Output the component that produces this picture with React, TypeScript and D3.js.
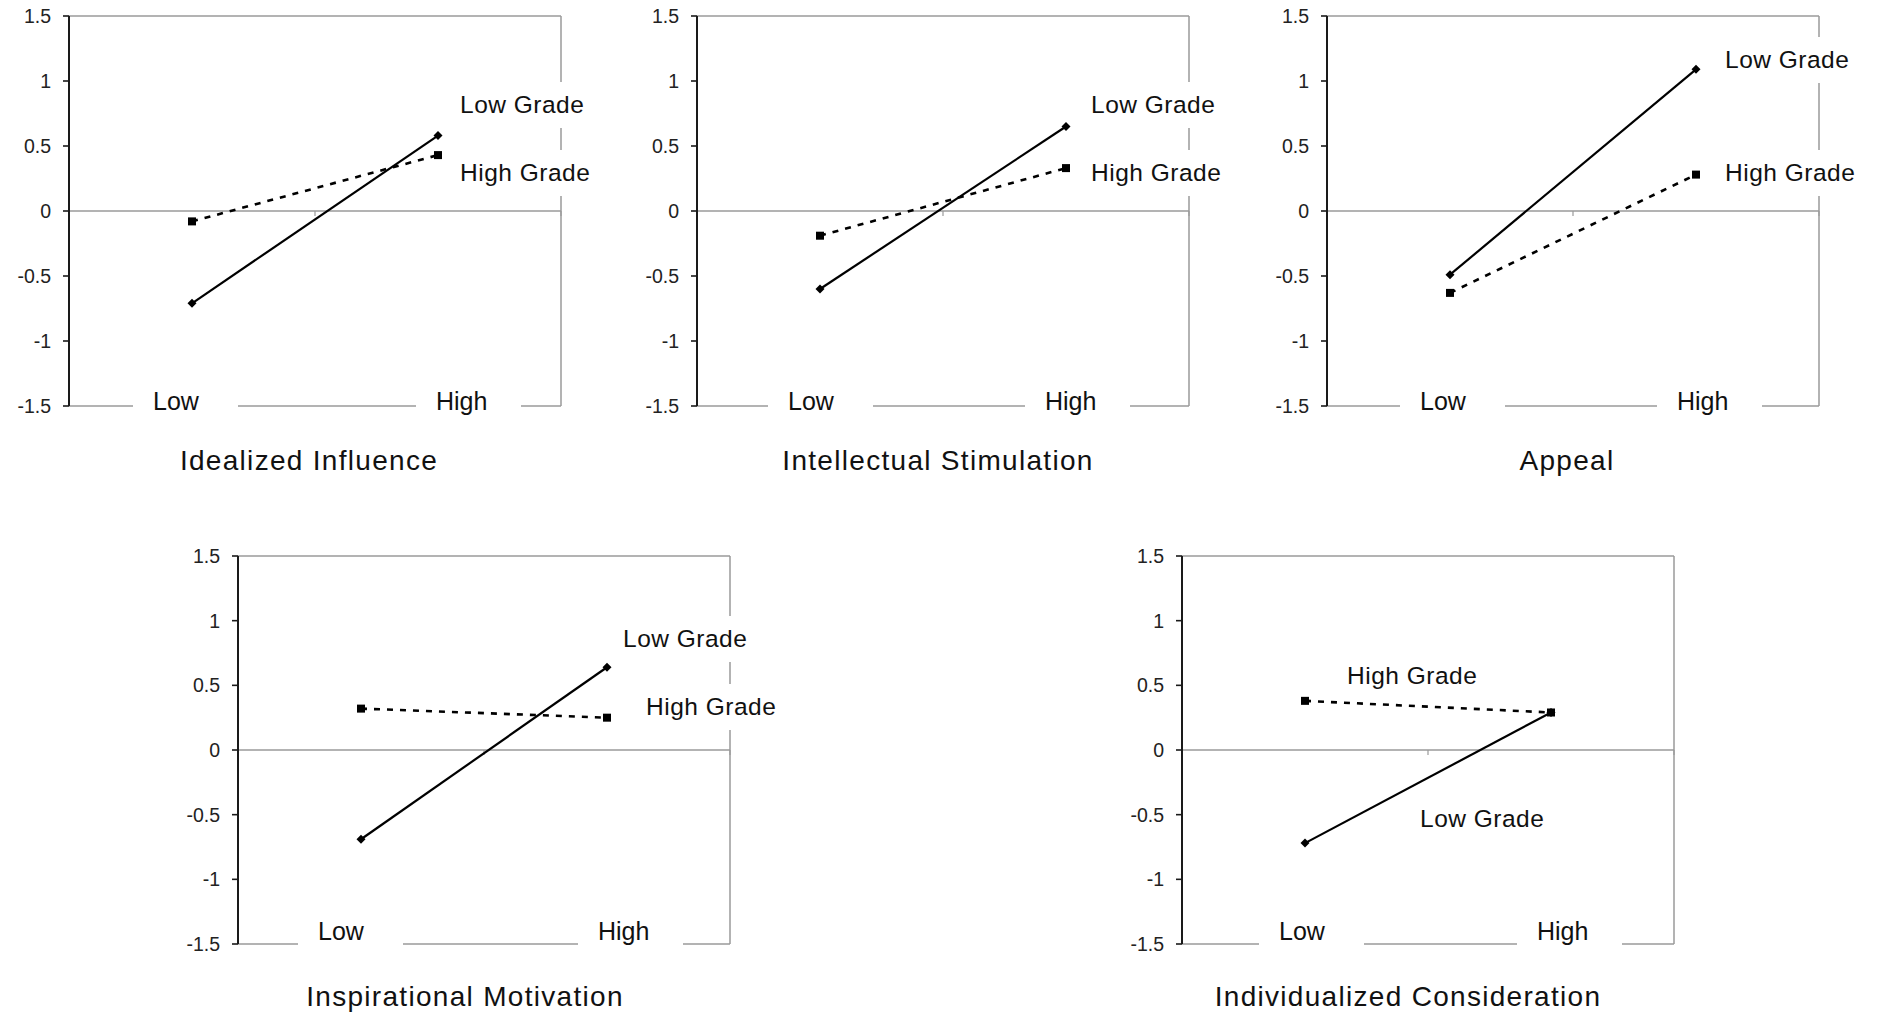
import React from "react";
import * as d3 from "d3";

// ---------- data ----------
const categories = ["Low", "High"];
const panelTitles = [
  "Idealized Influence",
  "Intellectual Stimulation",
  "Appeal",
  "Inspirational Motivation",
  "Individualized Consideration",
];
const seriesNames = ["Low Grade", "High Grade"];
const lowGradeValues = [
  [-0.71, 0.58],
  [-0.6, 0.65],
  [-0.49, 1.09],
  [-0.69, 0.64],
  [-0.72, 0.29],
];
const highGradeValues = [
  [-0.08, 0.43],
  [-0.19, 0.33],
  [-0.63, 0.28],
  [0.32, 0.25],
  [0.38, 0.29],
];
const yTicks = [-1.5, -1, -0.5, 0, 0.5, 1, 1.5];

// ---------- layout ----------
const PW = 492;
const panelLayout = [
  { left: 69, top: 16, ph: 390, titleDx: -6, titleDy: 64, catDy: 4, catX: [84, 367], lg: [391, 97], hg: [391, 165] },
  { left: 697, top: 16, ph: 390, titleDx: -5, titleDy: 64, catDy: 4, catX: [91, 348], lg: [394, 97], hg: [394, 165] },
  { left: 1327, top: 16, ph: 390, titleDx: -6, titleDy: 64, catDy: 4, catX: [93, 350], lg: [398, 52], hg: [398, 165] },
  { left: 238, top: 556, ph: 388, titleDx: -19, titleDy: 62, catDy: -4, catX: [80, 360], lg: [385, 91], hg: [408, 159] },
  { left: 1182, top: 556, ph: 388, titleDx: -20, titleDy: 62, catDy: -4, catX: [97, 355], lg: [238, 271], hg: [165, 128] },
];

const FONT = "'Liberation Sans', Arial, Helvetica, sans-serif";
const GRID = "#9a9a9a";

function Panel({ i }: { i: number }) {
  const L = panelLayout[i];
  const PH = L.ph;
  const x = d3.scalePoint<string>().domain(categories).range([L.left, L.left + PW]).padding(0.5);
  const y = d3.scaleLinear().domain([-1.5, 1.5]).range([L.top + PH, L.top]);
  const line = d3
    .line<[string, number]>()
    .x((d) => x(d[0]) as number)
    .y((d) => y(d[1]));
  const lowPts: [string, number][] = categories.map((c, k) => [c, lowGradeValues[i][k]]);
  const highPts: [string, number][] = categories.map((c, k) => [c, highGradeValues[i][k]]);
  const bottom = y(-1.5);
  const right = L.left + PW;

  const labelBox = (tx: number, ty: number, text: string) => {
    const w = text.length * 13.5;
    return (
      <rect x={L.left + tx - 14} y={L.top + ty - 31} width={w + 28} height={46} fill="#fff" />
    );
  };

  return (
    <g>
      {/* plot frame */}
      <line x1={L.left} x2={right} y1={L.top} y2={L.top} stroke={GRID} strokeWidth={1.5} />
      <line x1={right} x2={right} y1={L.top} y2={bottom} stroke={GRID} strokeWidth={1.5} />
      <line x1={L.left} x2={right} y1={bottom} y2={bottom} stroke={GRID} strokeWidth={1.5} />
      {/* category axis at zero */}
      <line x1={L.left} x2={right} y1={y(0)} y2={y(0)} stroke={GRID} strokeWidth={1.5} />
      {[0, 0.5, 1].map((f) => (
        <line
          key={f}
          x1={L.left + f * PW}
          x2={L.left + f * PW}
          y1={y(0)}
          y2={y(0) + 5}
          stroke={GRID}
          strokeWidth={1.2}
        />
      ))}
      {/* value axis */}
      <line x1={L.left} x2={L.left} y1={L.top} y2={bottom} stroke="#1a1a1a" strokeWidth={2} />
      {yTicks.map((t) => (
        <g key={t}>
          <line x1={L.left - 6} x2={L.left} y1={y(t)} y2={y(t)} stroke="#1a1a1a" strokeWidth={1.6} />
          <text
            x={L.left - 18}
            y={y(t) + 7}
            textAnchor="end"
            fontFamily={FONT}
            fontSize={19.5}
            fill="#222"
          >
            {String(t)}
          </text>
        </g>
      ))}
      {/* white label boxes (text boxes over the chart) */}
      {categories.map((c, k) => (
        <rect
          key={c}
          x={L.left + L.catX[k] - 20}
          y={bottom - 6}
          width={105}
          height={12}
          fill="#fff"
        />
      ))}
      {labelBox(L.lg[0], L.lg[1], seriesNames[0])}
      {labelBox(L.hg[0], L.hg[1], seriesNames[1])}
      {/* series lines */}
      <path d={line(highPts) as string} fill="none" stroke="#000" strokeWidth={2.6} strokeDasharray="6,7" />
      <path d={line(lowPts) as string} fill="none" stroke="#000" strokeWidth={2.2} />
      {highPts.map((d, k) => (
        <rect
          key={"h" + k}
          x={(x(d[0]) as number) - 4}
          y={y(d[1]) - 4}
          width={8}
          height={8}
          fill="#000"
        />
      ))}
      {lowPts.map((d, k) => {
        const cx = x(d[0]) as number;
        const cy = y(d[1]);
        return (
          <path
            key={"l" + k}
            d={`M${cx},${cy - 4.5}L${cx + 4.5},${cy}L${cx},${cy + 4.5}L${cx - 4.5},${cy}Z`}
            fill="#000"
          />
        );
      })}
      {/* category labels */}
      {categories.map((c, k) => (
        <text
          key={c}
          x={L.left + L.catX[k]}
          y={bottom + L.catDy}
          fontFamily={FONT}
          fontSize={25}
          fill="#111"
        >
          {c}
        </text>
      ))}
      {/* series labels */}
      <text
        x={L.left + L.lg[0]}
        y={L.top + L.lg[1]}
        fontFamily={FONT}
        fontSize={24.5}
        letterSpacing={0.5}
        fill="#111"
      >
        {seriesNames[0]}
      </text>
      <text
        x={L.left + L.hg[0]}
        y={L.top + L.hg[1]}
        fontFamily={FONT}
        fontSize={24.5}
        letterSpacing={0.5}
        fill="#111"
      >
        {seriesNames[1]}
      </text>
      {/* panel title */}
      <text
        x={L.left + PW / 2 + L.titleDx}
        y={bottom + L.titleDy}
        textAnchor="middle"
        fontFamily={FONT}
        fontSize={28}
        letterSpacing={1.3}
        fill="#111"
      >
        {panelTitles[i]}
      </text>
    </g>
  );
}

export default function App() {
  return (
    <svg
      width={1879}
      height={1015}
      style={{ position: "absolute", left: 0, top: 0, background: "#fff" }}
    >
      <rect x={0} y={0} width={1879} height={1015} fill="#fff" />
      {panelTitles.map((_, i) => (
        <Panel key={i} i={i} />
      ))}
    </svg>
  );
}
